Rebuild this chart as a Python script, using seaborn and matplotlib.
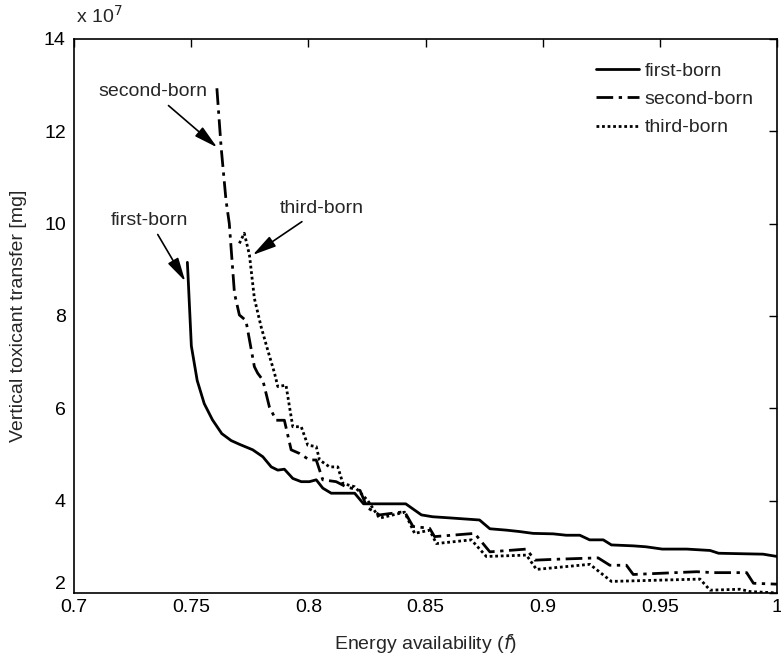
import numpy as np
import pandas as pd
import matplotlib
matplotlib.use("Agg")
import matplotlib.pyplot as plt
from matplotlib.ticker import FuncFormatter
import seaborn as sns

# values (y in units of 1e7 mg)
first_x = [0.7483, 0.7487, 0.7500, 0.7525, 0.7555, 0.7590, 0.7630, 0.7670, 0.7705, 0.7762,
           0.7805, 0.7841, 0.7869, 0.7897, 0.7933, 0.7969, 0.8004, 0.8033, 0.8061, 0.8097,
           0.8197, 0.8235, 0.8415, 0.8482, 0.8530, 0.8590, 0.8702, 0.8730, 0.8774, 0.8845,
           0.8900, 0.8959, 0.9044, 0.9100, 0.9158, 0.9200, 0.9258, 0.9293, 0.9386, 0.9440,
           0.9510, 0.9614, 0.9714, 0.9750, 0.9842, 0.9940, 1.0000]
first_y = [9.16, 8.75, 7.35, 6.60, 6.10, 5.75, 5.45, 5.30, 5.22, 5.10,
           4.95, 4.73, 4.66, 4.68, 4.48, 4.41, 4.41, 4.45, 4.27, 4.16,
           4.16, 3.93, 3.93, 3.69, 3.65, 3.63, 3.59, 3.58, 3.39, 3.36,
           3.33, 3.29, 3.28, 3.25, 3.25, 3.15, 3.15, 3.04, 3.02, 3.00,
           2.95, 2.95, 2.92, 2.86, 2.85, 2.84, 2.79]

second_x = [0.7609, 0.7627, 0.7648, 0.7662, 0.7684, 0.7705, 0.7733, 0.7769, 0.7783, 0.7805,
            0.7833, 0.7862, 0.7897, 0.7926, 0.7962, 0.8004, 0.8033, 0.8061, 0.8118, 0.8160,
            0.8220, 0.8250, 0.8303, 0.8410, 0.8446, 0.8517, 0.8538, 0.8709, 0.8774, 0.8930,
            0.8966, 0.9058, 0.9236, 0.9286, 0.9357, 0.9386, 0.9657, 0.9728, 0.9870, 0.9899,
            1.0000]
second_y = [12.93, 11.66, 10.50, 10.00, 8.49, 8.02, 7.90, 6.90, 6.76, 6.61,
            6.03, 5.74, 5.74, 5.10, 5.02, 4.88, 4.88, 4.45, 4.41, 4.30,
            4.22, 3.85, 3.69, 3.76, 3.44, 3.40, 3.22, 3.29, 2.89, 2.95,
            2.71, 2.73, 2.76, 2.60, 2.60, 2.40, 2.46, 2.44, 2.44, 2.21,
            2.19]

third_x = [0.7705, 0.7726, 0.7748, 0.7769, 0.7798, 0.7826, 0.7855, 0.7869, 0.7904, 0.7919,
           0.7933, 0.7969, 0.7997, 0.8033, 0.8047, 0.8090, 0.8125, 0.8147, 0.8197, 0.8253,
           0.8303, 0.8410, 0.8453, 0.8517, 0.8546, 0.8695, 0.8759, 0.8930, 0.8973, 0.9201,
           0.9293, 0.9671, 0.9714, 0.9842, 0.9885, 1.0000]
third_y = [9.57, 9.79, 9.32, 8.38, 7.76, 7.26, 6.76, 6.47, 6.50, 6.03,
           5.60, 5.60, 5.20, 5.17, 4.88, 4.73, 4.73, 4.37, 4.30, 4.00,
           3.62, 3.75, 3.29, 3.36, 3.07, 3.15, 2.79, 2.82, 2.51, 2.62,
           2.25, 2.30, 2.06, 2.08, 2.03, 2.00]

names = ["first-born", "second-born", "third-born"]
xticks = [0.7, 0.75, 0.8, 0.85, 0.9, 0.95, 1.0]
xticklabels = ["0.7", "0.75", "0.8", "0.85", "0.9", "0.95", "1"]
yticks = [2, 4, 6, 8, 10, 12, 14]

df = pd.concat([
    pd.DataFrame({"f": first_x, "v": np.array(first_y) * 1e7, "series": names[0]}),
    pd.DataFrame({"f": second_x, "v": np.array(second_y) * 1e7, "series": names[1]}),
    pd.DataFrame({"f": third_x, "v": np.array(third_y) * 1e7, "series": names[2]}),
])

sns.set_style("white")
plt.rcParams["font.family"] = ["Liberation Sans", "DejaVu Sans"]
plt.rcParams["font.size"] = 14

fig, ax = plt.subplots(figsize=(7.81, 6.70), dpi=100)
fig.subplots_adjust(left=0.095, right=0.995, bottom=0.115, top=0.942)

sns.lineplot(data=df, x="f", y="v", style="series", color="black", sort=False,
             estimator=None, linewidth=2, ax=ax,
             dashes={"first-born": "", "second-born": (6, 2, 1.2, 2), "third-born": (1, 1)})

ax.set_xlim(0.7, 1.0)
ax.set_ylim(2e7, 14e7)
ax.set_xticks(xticks)
ax.set_xticklabels(xticklabels)
ax.set_yticks([t * 1e7 for t in yticks])
ax.yaxis.set_major_formatter(FuncFormatter(lambda v, p: "%d" % round(v / 1e7)))
ax.tick_params(direction="in", top=True, right=True, length=6, width=1, labelsize=14,
               color="black", labelcolor="black")
ax.tick_params(axis="x", pad=4)
ax.tick_params(axis="y", pad=6)
# lift the bottom y label a little so it sits above "0.7", as in the original
ax.yaxis.get_major_ticks()[0].label1.set_verticalalignment("bottom")
for s in ax.spines.values():
    s.set_color("black")
    s.set_linewidth(1.2)

ax.text(0.003, 1.022, "x 10$^{7}$", transform=ax.transAxes, fontsize=14, ha="left", va="bottom")
ax.set_xlabel("Energy availability ($\\it{f}$)", fontsize=14, labelpad=12)
ax.set_ylabel("Vertical toxicant transfer [mg]", fontsize=14, labelpad=12)

arrow = dict(arrowstyle="-|>,head_length=0.8,head_width=0.2", color="black", lw=1.2,
             mutation_scale=18, shrinkA=2, shrinkB=0)
ax.annotate("second-born", xy=(0.7610, 11.65e7), xytext=(0.7335, 12.85e7),
            ha="center", va="center", fontsize=14, arrowprops=arrow)
ax.annotate("first-born", xy=(0.7474, 8.75e7), xytext=(0.7321, 10.07e7),
            ha="center", va="center", fontsize=14, arrowprops=arrow)
ax.annotate("third-born", xy=(0.7762, 9.32e7), xytext=(0.8056, 10.33e7),
            ha="center", va="center", fontsize=14, arrowprops=arrow)

leg = ax.legend(loc="upper right", frameon=False, fontsize=14, handlelength=2.2,
                handletextpad=0.3, borderaxespad=0.8, labelspacing=0.55)
for h in leg.get_lines():
    h.set_linewidth(2)

fig.savefig("out.png", dpi=100)
